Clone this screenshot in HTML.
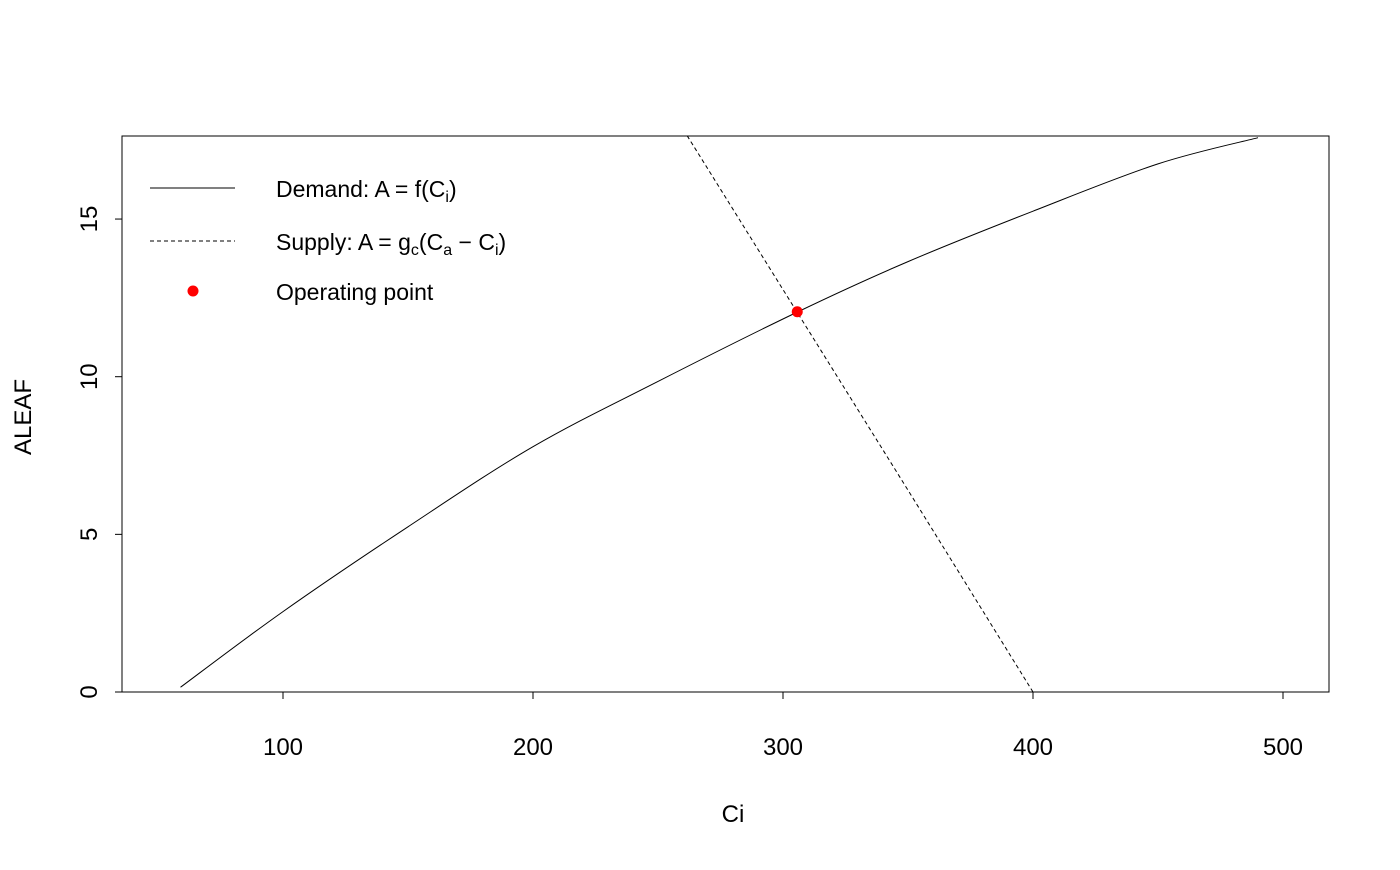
<!DOCTYPE html>
<html><head><meta charset="utf-8"><style>
body{margin:0;background:#fff}
svg text{font-family:"Liberation Sans",Arial,sans-serif;fill:#000}
</style></head><body>
<svg width="1400" height="865" xmlns="http://www.w3.org/2000/svg">
<defs><clipPath id="pc"><rect x="122" y="136" width="1207" height="556"/></clipPath></defs>
<rect x="122" y="136" width="1207" height="556" fill="none" stroke="#000" stroke-width="1"/>
<g id="xaxis"></g>
<g id="yaxis"></g>
<g clip-path="url(#pc)">
<path id="demand" fill="none" stroke="#000" stroke-width="1"/>
<path id="supply" fill="none" stroke="#000" stroke-width="1" stroke-dasharray="4,3"/>
</g>
<circle id="op" r="5.5" fill="#f00"/>
<text x="733" y="822" font-size="24" text-anchor="middle">Ci</text>
<text transform="translate(31,417) rotate(-90)" font-size="24" text-anchor="middle">ALEAF</text>
<g>
<g>
<line x1="150" y1="188" x2="235" y2="188" stroke="#000"/>
<text x="276" y="197" font-size="23">Demand:  A = f(C<tspan font-size="16" dy="5">i</tspan><tspan dy="-5">)</tspan></text>
</g>
<g>
<line x1="150" y1="241" x2="235" y2="241" stroke="#000" stroke-dasharray="4,3"/>
<text x="276" y="250" font-size="23">Supply:  A = g<tspan font-size="16" dy="5">c</tspan><tspan dy="-5">(C</tspan><tspan font-size="16" dy="5">a</tspan><tspan dy="-5"> − C</tspan><tspan font-size="16" dy="5">i</tspan><tspan dy="-5">)</tspan></text>
</g>
<g>
<circle cx="193" cy="291" r="5.5" fill="#f00"/>
<text x="276" y="300" font-size="23">Operating point</text>
</g>
</g>
</svg>
<script>
const demandCi=[59,100,150,200,250,306,350,400,450,490];
const demandA=[0.15,2.55,5.24,7.78,9.85,12.06,13.65,15.25,16.75,17.58];
const supplyCi=[400,350,306,262,240];
const supplyA=[0,6.4,12,17.6,20.4];
const opCi=[305.7];
const opA=[12.06];
const xTicks=[100,200,300,400,500];
const yTicks=[0,5,10,15];
const sx=v=>33+v*2.5;
const sy=v=>692-v*31.53;
const NS="http://www.w3.org/2000/svg";
function pathD(xs,ys){
 const p=xs.map((x,i)=>[sx(x),sy(ys[i])]);
 let d='M'+p[0][0]+','+p[0][1];
 for(let i=0;i<p.length-1;i++){
  const p0=p[Math.max(0,i-1)],p1=p[i],p2=p[i+1],p3=p[Math.min(p.length-1,i+2)];
  const c1=[p1[0]+(p2[0]-p0[0])/6,p1[1]+(p2[1]-p0[1])/6];
  const c2=[p2[0]-(p3[0]-p1[0])/6,p2[1]-(p3[1]-p1[1])/6];
  d+=' C'+c1+' '+c2+' '+p2;
 }
 return d;
}
document.getElementById('demand').setAttribute('d',pathD(demandCi,demandA));
document.getElementById('supply').setAttribute('d',pathD(supplyCi,supplyA));
const op=document.getElementById('op');op.setAttribute('cx',sx(opCi[0]));op.setAttribute('cy',sy(opA[0]));
const xa=document.getElementById('xaxis');
let l=document.createElementNS(NS,'line');


l.setAttribute('x1',sx(xTicks[0]));l.setAttribute('x2',sx(xTicks[xTicks.length-1]));l.setAttribute('y1',692);l.setAttribute('y2',692);l.setAttribute('stroke','#000');xa.appendChild(l);
xTicks.forEach(t=>{
 const k=document.createElementNS(NS,'line');
 
 
 k.setAttribute('x1',sx(t));k.setAttribute('x2',sx(t));k.setAttribute('y1',692);k.setAttribute('y2',699);k.setAttribute('stroke','#000');xa.appendChild(k);
 const tx=document.createElementNS(NS,'text');
 
 
 tx.setAttribute('x',sx(t));tx.setAttribute('y',755);tx.setAttribute('font-size','24');tx.setAttribute('text-anchor','middle');tx.textContent=t;xa.appendChild(tx);
});
const ya=document.getElementById('yaxis');
l=document.createElementNS(NS,'line');


l.setAttribute('x1',122);l.setAttribute('x2',122);l.setAttribute('y1',sy(yTicks[0]));l.setAttribute('y2',sy(yTicks[yTicks.length-1]));l.setAttribute('stroke','#000');ya.appendChild(l);
yTicks.forEach(t=>{
 const k=document.createElementNS(NS,'line');
 
 
 k.setAttribute('x1',115);k.setAttribute('x2',122);k.setAttribute('y1',sy(t));k.setAttribute('y2',sy(t));k.setAttribute('stroke','#000');ya.appendChild(k);
 const tx=document.createElementNS(NS,'text');
 
 
 tx.setAttribute('transform','translate(97,'+sy(t)+') rotate(-90)');tx.setAttribute('font-size','24');tx.setAttribute('text-anchor','middle');tx.textContent=t;ya.appendChild(tx);
});
</script>
</body></html>
